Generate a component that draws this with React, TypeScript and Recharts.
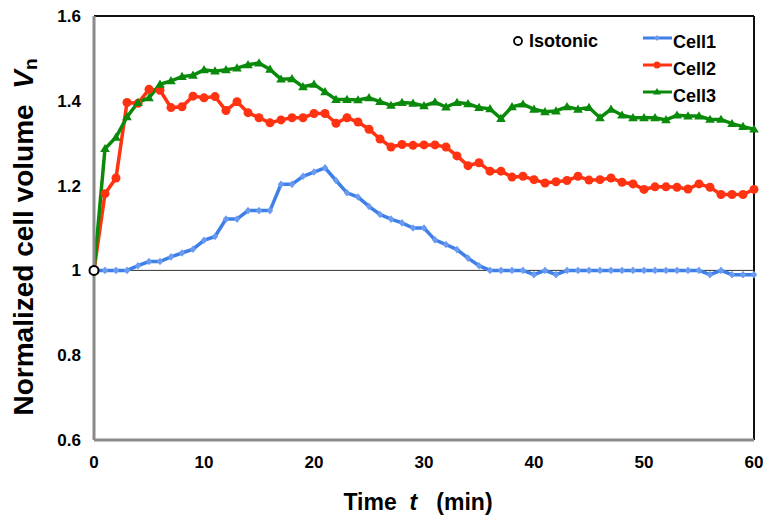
import { ComposedChart, Line, XAxis, YAxis, ReferenceLine, Legend } from "recharts";

// time (min), one reading per minute
const times = [
  0, 1, 2, 3, 4, 5, 6, 7, 8, 9, 10, 11, 12, 13, 14, 15, 16, 17, 18, 19, 20,
  21, 22, 23, 24, 25, 26, 27, 28, 29, 30, 31, 32, 33, 34, 35, 36, 37, 38, 39, 40,
  41, 42, 43, 44, 45, 46, 47, 48, 49, 50, 51, 52, 53, 54, 55, 56, 57, 58, 59, 60,
];

const cell1 = [
  1.0, 1.0, 1.0, 1.0, 1.011, 1.021, 1.021, 1.032, 1.041, 1.05, 1.071,
  1.08, 1.121, 1.121, 1.141, 1.141, 1.141, 1.203, 1.203, 1.222, 1.232,
  1.242, 1.212, 1.183, 1.173, 1.151, 1.132, 1.121, 1.112, 1.1, 1.1,
  1.072, 1.061, 1.049, 1.029, 1.011, 1.0, 1.0, 1.0, 1.0, 0.99,
  1.0, 0.99, 1.0, 1.0, 1.0, 1.0, 1.0, 1.0, 1.0, 1.0,
  1.0, 1.0, 1.0, 1.0, 1.0, 0.99, 1.0, 0.99, 0.99, 0.99,
];

const cell2 = [
  1.0, 1.181, 1.218, 1.396, 1.394, 1.427, 1.425, 1.384, 1.386, 1.411, 1.407,
  1.41, 1.377, 1.398, 1.372, 1.36, 1.348, 1.355, 1.36, 1.36, 1.37,
  1.37, 1.347, 1.36, 1.35, 1.333, 1.31, 1.291, 1.297, 1.295, 1.296,
  1.296, 1.291, 1.27, 1.247, 1.254, 1.234, 1.234, 1.22, 1.222, 1.214,
  1.206, 1.209, 1.212, 1.222, 1.213, 1.214, 1.218, 1.208, 1.204, 1.191,
  1.197, 1.197, 1.196, 1.192, 1.204, 1.196, 1.179, 1.179, 1.179, 1.191,
];

const cell3 = [
  1.0, 1.287, 1.314, 1.362, 1.396, 1.407, 1.439, 1.447, 1.457, 1.46, 1.473,
  1.47, 1.473, 1.477, 1.485, 1.489, 1.474, 1.451, 1.452, 1.433, 1.439,
  1.421, 1.403, 1.403, 1.402, 1.407, 1.398, 1.389, 1.396, 1.394, 1.388,
  1.397, 1.385, 1.396, 1.393, 1.384, 1.381, 1.358, 1.386, 1.392, 1.38,
  1.374, 1.376, 1.386, 1.38, 1.384, 1.36, 1.38, 1.366, 1.36, 1.36,
  1.36, 1.355, 1.366, 1.364, 1.364, 1.356, 1.356, 1.346, 1.339, 1.333,
];

// the isotonic reference point at t = 0
const isotonic = [1.0];

const xTicks = [0, 10, 20, 30, 40, 50, 60];
const xMinorTicks = [
  0, 2, 4, 6, 8, 10, 12, 14, 16, 18, 20, 22, 24, 26, 28, 30,
  32, 34, 36, 38, 40, 42, 44, 46, 48, 50, 52, 54, 56, 58, 60,
];
const yTicks = [0.6, 0.8, 1.0, 1.2, 1.4, 1.6];
const yMinorTicks = [
  0.6, 0.65, 0.7, 0.75, 0.8, 0.85, 0.9, 0.95, 1.0, 1.05,
  1.1, 1.15, 1.2, 1.25, 1.3, 1.35, 1.4, 1.45, 1.5, 1.55, 1.6,
];

const data = times.map((t, i) => ({
  t,
  c1: cell1[i],
  c2: cell2[i],
  c3: cell3[i],
  iso: i === 0 ? isotonic[0] : null,
}));

const BLUE = "#3f7fe8";
const RED = "#ff3311";
const GREEN = "#0a8a0a";
const AXIS = "#8a8a8a";
const FONT = '"Liberation Sans", Arial, Helvetica, sans-serif';

const Diamond = (props: any) => {
  const { cx, cy, index } = props;
  if (cx == null || cy == null) return <g key={index} />;
  return (
    <path
      key={index}
      d={`M${cx},${cy - 3.8}L${cx + 3.2},${cy}L${cx},${cy + 3.8}L${cx - 3.2},${cy}Z`}
      fill="#6a9bf0"
    />
  );
};

const Dot = (props: any) => {
  const { cx, cy, index } = props;
  if (cx == null || cy == null) return <g key={index} />;
  return <circle key={index} cx={cx} cy={cy} r={4.5} fill={RED} />;
};

const Tri = (props: any) => {
  const { cx, cy, index } = props;
  if (cx == null || cy == null) return <g key={index} />;
  return (
    <path
      key={index}
      d={`M${cx},${cy - 4.8}L${cx + 4.8},${cy + 3.4}L${cx - 4.8},${cy + 3.4}Z`}
      fill={GREEN}
    />
  );
};

const LegendBox = () => (
  <svg width={260} height={95} style={{ overflow: "visible" }}>
    <g fontFamily={FONT} fontWeight="bold" fontSize={18} fill="#000">
      <circle cx={18} cy={21} r={4} fill="#fff" stroke="#000" strokeWidth={1.8} />
      <text x={29} y={27}>Isotonic</text>

      <line x1={143} x2={172} y1={18} y2={18} stroke={BLUE} strokeWidth={3} />
      <path d="M157,15L159.5,18L157,21L154.5,18Z" fill="#6a9bf0" />
      <text x={173} y={28}>Cell1</text>

      <line x1={143} x2={172} y1={45} y2={45} stroke={RED} strokeWidth={3} />
      <circle cx={157} cy={45} r={3.5} fill={RED} />
      <text x={173} y={55}>Cell2</text>

      <line x1={143} x2={172} y1={72} y2={72} stroke={GREEN} strokeWidth={3} />
      <path d="M157,68L161,74.5L153,74.5Z" fill={GREEN} />
      <text x={173} y={82}>Cell3</text>
    </g>
  </svg>
);

const YTick = (props: any) => {
  const { x, y, payload } = props;
  return (
    <text x={x} y={y + 6} textAnchor="end" fontFamily={FONT} fontWeight="bold" fontSize={17} fill="#000">
      {String(payload.value)}
    </text>
  );
};

const XTick = (props: any) => {
  const { x, y, payload } = props;
  return (
    <text x={x} y={y} dy="0.71em" textAnchor="middle" fontFamily={FONT} fontWeight="bold" fontSize={17} fill="#000">
      {String(payload.value)}
    </text>
  );
};

const YTitle = () => (
  <text
    transform="translate(33, 237) rotate(-90)"
    textAnchor="middle"
    fontFamily={FONT}
    fontWeight="bold"
    fontSize={28}
    fill="#000"
  >
    Normalized cell volume{"\u00a0\u00a0"}
    <tspan fontStyle="italic">V</tspan>
    <tspan fontSize={19} dy={4}>n</tspan>
  </text>
);

const XTitle = () => (
  <text x={418} y={510} textAnchor="middle" fontFamily={FONT} fontWeight="bold" fontSize={23} fill="#000">
    Time{"\u00a0\u00a0"}
    <tspan fontStyle="italic">t</tspan>
    {"\u00a0\u00a0\u00a0"}(min)
  </text>
);

export default function App() {
  return (
    <div style={{ position: "absolute", left: 0, top: 0, width: 767, height: 523, background: "#fff" }}>
      <ComposedChart width={767} height={523} data={data} margin={{ top: 16, right: 13, bottom: 0, left: 0 }}>
        <XAxis
          xAxisId="minor"
          dataKey="t"
          type="number"
          domain={[0, 60]}
          ticks={xMinorTicks}
          allowDataOverflow
          height={0}
          mirror
          tick={false}
          axisLine={false}
          tickSize={4}
          tickLine={{ stroke: AXIS, strokeWidth: 1.5 }}
        />
        <XAxis
          dataKey="t"
          type="number"
          domain={[0, 60]}
          ticks={xTicks}
          height={83}
          axisLine={{ stroke: AXIS, strokeWidth: 3 }}
          tickLine={false}
          tickSize={6}
          tickMargin={10}
          tick={<XTick />}
          label={{ content: () => <XTitle /> }}
        />
        <YAxis
          yAxisId="minor"
          type="number"
          domain={[0.6, 1.6]}
          ticks={yMinorTicks}
          allowDataOverflow
          width={0}
          mirror
          tick={false}
          axisLine={false}
          tickSize={4}
          tickLine={{ stroke: AXIS, strokeWidth: 1.5 }}
        />
        <YAxis
          type="number"
          domain={[0.6, 1.6]}
          ticks={yTicks}
          allowDataOverflow
          width={94}
          axisLine={{ stroke: AXIS, strokeWidth: 3 }}
          tickLine={false}
          tickSize={6}
          tickMargin={7}
          tick={<YTick />}
          label={{ content: () => <YTitle /> }}
        />
        <ReferenceLine y={1.6} stroke="#111" strokeWidth={2} />
        <ReferenceLine x={60} stroke="#111" strokeWidth={2} />
        <ReferenceLine y={1} stroke="#333" strokeWidth={1} />
        <Legend
          layout="vertical"
          align="center"
          verticalAlign="middle"
          wrapperStyle={{ position: "absolute", left: 500, top: 20, width: 260, height: 95 }}
          content={() => <LegendBox />}
        />
        <Line
          dataKey="c1"
          stroke={BLUE}
          strokeWidth={3.5}
          dot={<Diamond />}
          activeDot={false}
          isAnimationActive={false}
        />
        <Line
          dataKey="c2"
          stroke={RED}
          strokeWidth={3.5}
          dot={<Dot />}
          activeDot={false}
          isAnimationActive={false}
        />
        <Line
          dataKey="c3"
          stroke={GREEN}
          strokeWidth={3.5}
          dot={<Tri />}
          activeDot={false}
          isAnimationActive={false}
        />
        <Line
          dataKey="iso"
          stroke="none"
          dot={{ r: 4.5, fill: "#fff", stroke: "#000", strokeWidth: 2 }}
          activeDot={false}
          isAnimationActive={false}
        />
      </ComposedChart>
    </div>
  );
}
